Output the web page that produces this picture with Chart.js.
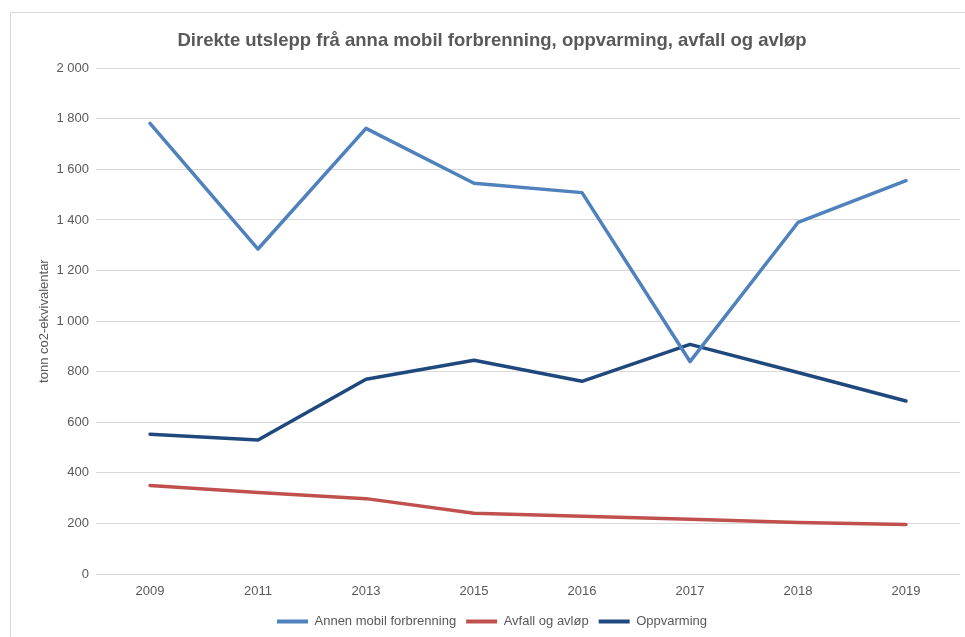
<!DOCTYPE html>
<html>
<head>
<meta charset="utf-8">
<script src="https://cdn.jsdelivr.net/npm/chart.js@4.4.0/dist/chart.umd.min.js"></script>
<style>
  html, body { margin: 0; padding: 0; background: #fff; }
  #wrap { width: 965px; height: 637px; position: relative; }
</style>
</head>
<body>
<div id="wrap"><canvas id="chart" width="965" height="637"></canvas></div>
<script>
// data
var years = ['2009', '2011', '2013', '2015', '2016', '2017', '2018', '2019'];
var annenMobil = [1782, 1285, 1762, 1545, 1508, 840, 1390, 1555];
var avfallAvlop = [350, 322, 298, 240, 228, 216, 204, 196];
var oppvarming = [553, 530, 770, 845, 762, 908, 797, 684];

var grey = '#595959';
var gridCol = '#D9D9D9';
var fontFam = "'Liberation Sans', Arial, sans-serif";

function fmt(v) {
    if (v >= 1000) {
        var rest = String(v % 1000);
        while (rest.length < 3) rest = '0' + rest;
        return Math.floor(v / 1000) + ' ' + rest;
    }
    return String(v);
}

// light frame round the chart (left + top edge, rest is cut off)
var framePlugin = {
    id: 'frame',
    beforeDraw: function(chart) {
        var ctx = chart.ctx;
        ctx.save();
        ctx.strokeStyle = gridCol;
        ctx.lineWidth = 1;
        ctx.beginPath();
        ctx.moveTo(10.5, 637);
        ctx.lineTo(10.5, 12.5);
        ctx.lineTo(965, 12.5);
        ctx.stroke();
        ctx.restore();
    }
};

var ctx = document.getElementById('chart').getContext('2d');
var myChart = new Chart(ctx, {
    type: 'line',
    data: {
        labels: years,
        datasets: [
            {
                label: 'Annen mobil forbrenning',
                data: annenMobil,
                borderColor: '#4F81BD',
                backgroundColor: '#4F81BD'
            },
            {
                label: 'Avfall og avløp',
                data: avfallAvlop,
                borderColor: '#C0504D',
                backgroundColor: '#C0504D'
            },
            {
                label: 'Oppvarming',
                data: oppvarming,
                borderColor: '#1F497D',
                backgroundColor: '#1F497D'
            }
        ]
    },
    options: {
        responsive: false,
        animation: false,
        devicePixelRatio: 1,
        layout: { padding: { left: 24, right: 5, top: 0, bottom: -1 } },
        elements: {
            line: { borderWidth: 3.5, tension: 0, borderCapStyle: 'round', borderJoinStyle: 'round' },
            point: { radius: 0, hoverRadius: 0 }
        },
        plugins: {
            title: {
                display: true,
                text: 'Direkte utslepp frå anna mobil forbrenning, oppvarming, avfall og avløp',
                color: grey,
                font: { family: fontFam, size: 18.5, weight: 'bold' },
                padding: { top: 30, bottom: 16 }
            },
            legend: {
                position: 'bottom',
                labels: {
                    color: grey,
                    font: { family: fontFam, size: 13 },
                    boxWidth: 31,
                    boxHeight: 4,
                    padding: 10,
                    generateLabels: function(chart) {
                        var items = Chart.defaults.plugins.legend.labels.generateLabels(chart);
                        items.forEach(function(it) { it.lineWidth = 0; });
                        return items;
                    }
                }
            },
            tooltip: { enabled: false }
        },
        scales: {
            x: {
                offset: true,
                grid: { display: false, drawTicks: false },
                border: { display: false },
                ticks: {
                    color: grey,
                    font: { family: fontFam, size: 13 },
                    padding: 10,
                    maxRotation: 0
                },
                afterFit: function(scale) { scale.height = 31; }
            },
            y: {
                min: 0,
                max: 2000,
                grid: { color: gridCol, lineWidth: 1, drawTicks: false },
                border: { display: false },
                ticks: {
                    stepSize: 200,
                    color: grey,
                    padding: 7,
                    font: { family: fontFam, size: 13 },
                    callback: function(v) { return fmt(v); }
                },
                title: {
                    display: true,
                    text: 'tonn co2-ekvivalentar',
                    color: grey,
                    font: { family: fontFam, size: 13 },
                    padding: { top: 13, bottom: 0 }
                },
                afterFit: function(scale) { scale.width = 72; }
            }
        }
    },
    plugins: [framePlugin]
});
</script>
</body>
</html>
